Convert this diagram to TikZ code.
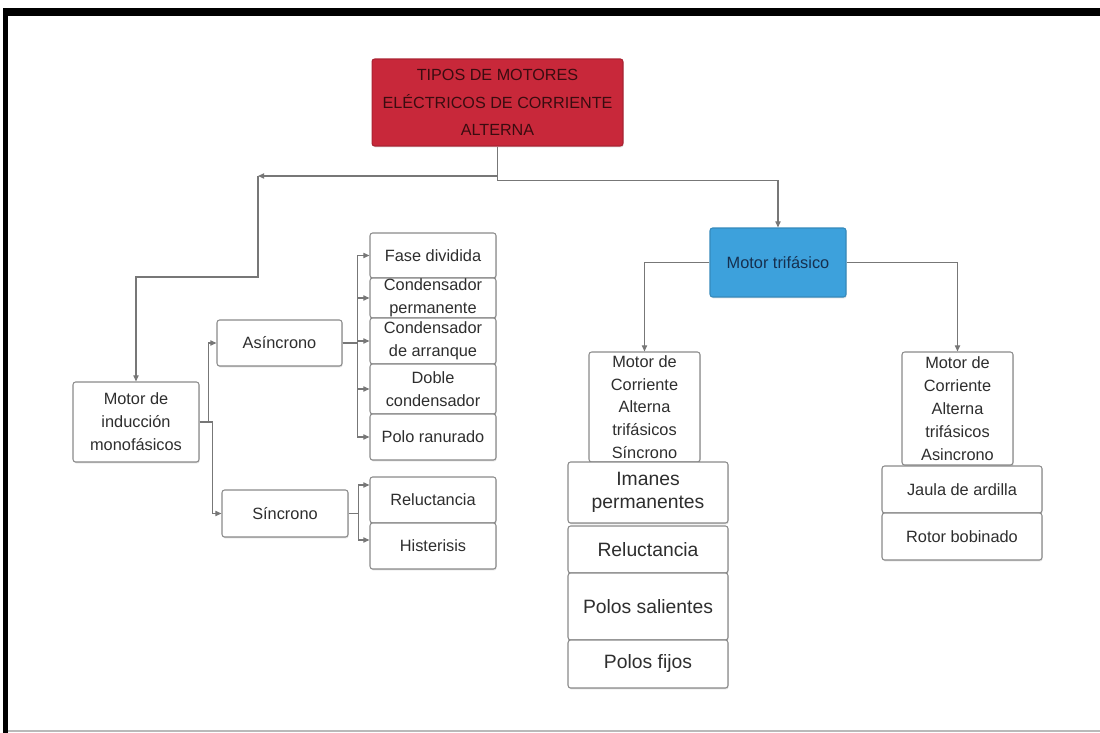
\documentclass[tikz,border=0pt]{standalone}
\usepackage{fontspec}
\setmainfont{Liberation Sans}
\usetikzlibrary{arrows.meta,shadows}
\definecolor{titlered}{HTML}{C8283A}
\definecolor{titleink}{HTML}{3A0C10}
\definecolor{triblue}{HTML}{3DA1DC}
\definecolor{triink}{HTML}{16304F}
\definecolor{edge}{HTML}{8A8A8A}
\definecolor{wire}{HTML}{777777}
\definecolor{ink}{HTML}{2E2E2E}

\begin{document}
\begin{tikzpicture}[x=0.02cm,y=-0.02cm,
  box/.style={draw=edge,fill=white,rounded corners=1.5pt,line width=.6pt,inner xsep=2pt,inner ysep=0pt,align=center,text=ink,font=\fontsize{9.3}{13}\selectfont,drop shadow={shadow xshift=.4pt,shadow yshift=-.8pt,opacity=.25}},
  big/.style={box,font=\fontsize{11}{13}\selectfont},
  link/.style={draw=wire,line width=.7pt,-{Triangle[length=3.5pt,width=3pt]}}]
\useasboundingbox (0,0) rectangle (1100,733);
\fill[black] (3,8) rectangle (1100,16);\fill[black] (3,8) rectangle (8,733);
\fill[gray!55] (8,730) rectangle (1100,732);
\node[box,fill=titlered,draw=titlered!85!black,text=titleink,font=\fontsize{9.2}{15.6}\selectfont,minimum width=5.02cm,minimum height=1.74cm] (title) at (497.5,102.5) {TIPOS DE MOTORES\\ELÉCTRICOS DE CORRIENTE\\ALTERNA};
\node[box,fill=triblue,draw=triblue!85!black,text=triink,minimum width=2.72cm,minimum height=1.38cm] (tri) at (778,262.5) {Motor trifásico};
\node[box,minimum width=2.52cm,minimum height=1.6cm] (mono) at (136,422) {Motor de\\inducción\\monofásicos};
\node[box,minimum width=2.5cm,minimum height=.92cm] (asin) at (279.5,343) {Asíncrono};
\node[box,minimum width=2.52cm,minimum height=.94cm] (sinc) at (285,513.5) {Síncrono};
\node[box,minimum width=2.52cm,minimum height=.9cm] (fase) at (433,255.5) {Fase dividida};
\node[box,minimum width=2.52cm,minimum height=.8cm] (cperm) at (433,298) {Condensador\\permanente};
\node[box,minimum width=2.52cm,minimum height=.92cm] (carr) at (433,341) {Condensador\\de arranque};
\node[box,minimum width=2.52cm,minimum height=1cm] (doble) at (433,389) {Doble\\condensador};
\node[box,minimum width=2.52cm,minimum height=.92cm] (polo) at (433,437) {Polo ranurado};
\node[box,minimum width=2.52cm,minimum height=.92cm] (relu) at (433,500) {Reluctancia};
\node[box,minimum width=2.52cm,minimum height=.92cm] (hist) at (433,546) {Histerisis};
\node[box,minimum width=2.22cm,minimum height=2.2cm] (sct) at (644.5,407) {Motor de\\Corriente\\Alterna\\trifásicos\\Síncrono};
\node[big,minimum width=3.2cm,minimum height=1.22cm] (iman) at (648,492.5) {Imanes\\permanentes};
\node[big,minimum width=3.2cm,minimum height=.94cm] (relt) at (648,549.5) {Reluctancia};
\node[big,minimum width=3.2cm,minimum height=1.34cm] (psal) at (648,606.5) {Polos salientes};
\node[big,minimum width=3.2cm,minimum height=.96cm] (pfij) at (648,664) {Polos fijos};
\node[box,minimum width=2.22cm,minimum height=2.26cm] (act) at (957.5,408.5) {Motor de\\Corriente\\Alterna\\trifásicos\\Asincrono};
\node[box,minimum width=3.2cm,minimum height=.94cm] (jaula) at (962,489.5) {Jaula de ardilla};
\node[box,minimum width=3.2cm,minimum height=.94cm] (rotor) at (962,536.5) {Rotor bobinado};
\coordinate (jl) at (258,176);
\draw[link] (title.south) |- (jl);\draw[link] (jl) -- ++(0,101) -| (mono.north);
\draw[link] (title.south) -- ++(0,34) -| (tri.north);
\draw[link] (tri.west) -| (sct.north);\draw[link] (tri.east) -| (act.north);
\draw[link] (mono.east) -- ++(9,0) |- (asin.west);\draw[link] (mono.east) -- ++(13,0) |- (sinc.west);
\draw[link] (asin.east) -- ++(15,0) |- (fase.west);\draw[link] (asin.east) -- ++(15,0) |- (cperm.west);
\draw[link] (asin.east) -- ++(15,0) |- (carr.west);\draw[link] (asin.east) -- ++(15,0) |- (doble.west);
\draw[link] (asin.east) -- ++(15,0) |- (polo.west);
\draw[link] (sinc.east) -- ++(10,0) |- ([yshift=.3cm]relu.west);\draw[link] (sinc.east) -- ++(10,0) |- ([yshift=.12cm]hist.west);
\end{tikzpicture}
\end{document}
